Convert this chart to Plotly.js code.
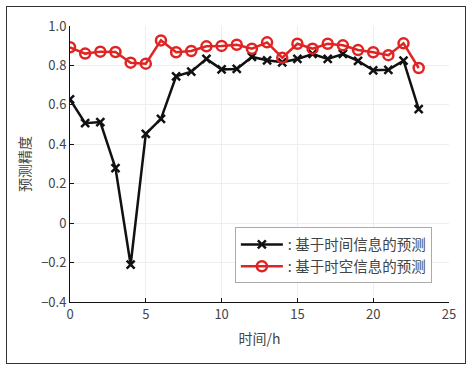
<!DOCTYPE html>
<html><head><meta charset="utf-8">
<script src="https://cdn.plot.ly/plotly-3.0.1.min.js"></script>
<style>
body{margin:0;padding:0;background:#fff;}
#chart{width:473px;height:371px;position:absolute;left:0;top:0;}
#frame{position:absolute;left:6px;top:6px;width:458px;height:356px;border:1.5px solid #333;pointer-events:none;}
</style></head>
<body>
<div id="chart"></div>
<div id="frame"></div>
<script>
const hours = [0,1,2,3,4,5,6,7,8,9,10,11,12,13,14,15,16,17,18,19,20,21,22,23];
const timeOnly = [0.628,0.507,0.513,0.279,-0.211,0.453,0.529,0.745,0.768,0.833,0.780,0.782,0.843,0.826,0.816,0.833,0.858,0.833,0.858,0.823,0.775,0.778,0.824,0.578];
const spaceTime = [0.892,0.860,0.870,0.868,0.814,0.809,0.927,0.867,0.873,0.897,0.899,0.905,0.885,0.917,0.839,0.910,0.885,0.910,0.902,0.878,0.867,0.852,0.912,0.787];
const seriesNames = [': 基于时间信息的预测', ': 基于时空信息的预测'];
const yTickVals = [-0.4,-0.2,0,0.2,0.4,0.6,0.8,1.0];
const yTickText = ['\u22120.4','\u22120.2','0','0.2','0.4','0.6','0.8','1.0'];
const xTickVals = [0,5,10,15,20,25];

const font = 'Noto Sans CJK SC, Noto Sans, sans-serif';
const traces = [
  {x: hours, y: timeOnly, name: seriesNames[0], mode: 'lines+markers',
   line: {color: '#111', width: 2.5},
   marker: {symbol: 'x-thin-open', size: 8, color: '#111', line: {color: '#111', width: 2.5}}},
  {x: hours, y: spaceTime, name: seriesNames[1], mode: 'lines+markers',
   line: {color: '#e02424', width: 2.5},
   marker: {symbol: 'circle-open', size: 10, color: '#e02424', line: {color: '#e02424', width: 2.5}}}
];
const layout = {
  width: 473, height: 371,
  margin: {l: 70, r: 24, t: 26, b: 69},
  paper_bgcolor: '#fff', plot_bgcolor: '#fff',
  font: {family: font, size: 13, color: '#444'},
  showlegend: true,
  legend: {x: 0.435, y: 0.27, xanchor: 'left', yanchor: 'top',
    bgcolor: '#fff', bordercolor: '#aaa', borderwidth: 1,
    font: {size: 14.5, color: '#444', family: font}, itemwidth: 42, tracegroupgap: 0},
  xaxis: {range: [0, 25], tickvals: xTickVals, ticks: 'inside', ticklen: 4, tickcolor: '#111',
    showline: true, linecolor: '#111', linewidth: 1, zeroline: false,
    showgrid: true, gridcolor: '#eeeeee', gridwidth: 1,
    tickfont: {size: 13, color: '#444'},
    title: {text: '时间/h', font: {size: 14, color: '#444'}, standoff: 12}},
  yaxis: {range: [-0.4, 1.0], tickvals: yTickVals, ticktext: yTickText, ticks: 'inside', ticklen: 4, tickcolor: '#111',
    showline: true, linecolor: '#111', linewidth: 1, zeroline: false,
    showgrid: true, gridcolor: '#eeeeee', gridwidth: 1,
    tickfont: {size: 13, color: '#444'},
    title: {text: '预测精度', font: {size: 14, color: '#444'}, standoff: 7}}
};
Plotly.newPlot('chart', traces, layout, {displayModeBar: false, staticPlot: true});
</script>
</body></html>
